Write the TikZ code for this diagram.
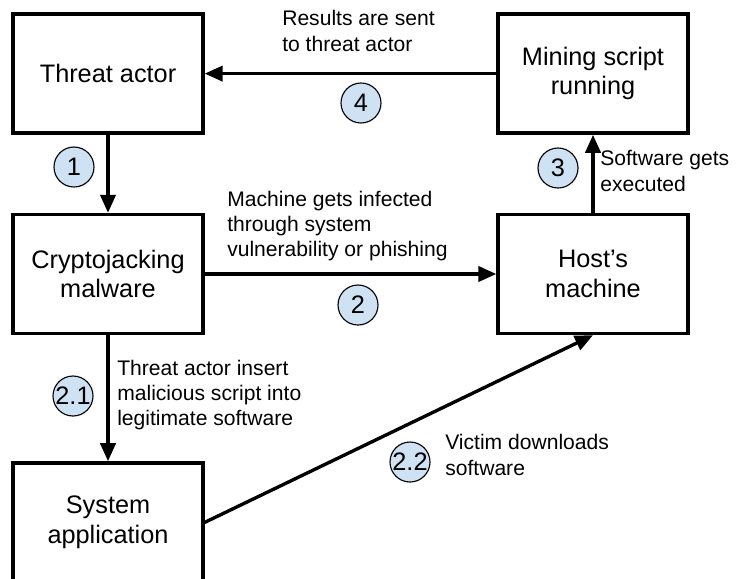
\documentclass[tikz,border=0pt]{standalone}
\usepackage{fontspec}
\setmainfont{Liberation Sans}
\definecolor{NumBlue}{RGB}{207,226,243}
\usepackage{tikz}
\usetikzlibrary{arrows.meta}

\begin{document}
\begin{tikzpicture}[>={Triangle[length=0.45cm,width=0.38cm]}]
		\tikzstyle{box}=[draw, line width=2.4pt, minimum width=4.75cm, minimum height=2.975cm, align=center, font=\fontsize{18}{21}\selectfont];
		\tikzstyle{num}=[draw, circle, fill=NumBlue, line width=0.8pt, minimum size=1cm, inner sep=0pt, font=\fontsize{18}{21}\selectfont];
		\tikzstyle{lbl}=[anchor=west, align=left, inner sep=0pt, font=\fontsize{15}{18}\selectfont];
		\useasboundingbox (0,0) rectangle (18.4,-14.45);
		\clip (0,0) rectangle (18.4,-14.45);
		\node [box] (ta) at (2.7, -1.84) {Threat actor};
		\node [box] (msr) at (14.825, -1.84) {Mining script\\running};
		\node [box] (cj) at (2.7, -6.85) {Cryptojacking\\malware};
		\node [box] (hm) at (14.825, -6.85) {Host’s\\machine};
		\node [box] (sa) at (2.7, -13.06) {System\\application};
		\node [num] (c1) at (1.85, -4.175) {1};
		\node [num] (c4) at (9.025, -2.575) {4};
		\node [num] (c2) at (8.95, -7.625) {2};
		\node [num] (c3) at (13.95, -4.2) {3};
		\node [num] (c21) at (1.825, -9.9) {2.1};
		\node [num] (c22) at (10.25, -11.55) {2.2};
		\node [lbl] (l4) at (7.05, -0.775) {Results are sent\\to threat actor};
		\node [lbl] (l2) at (5.675, -5.65) {Machine gets infected\\through system\\vulnerability or phishing};
		\node [lbl] (l3) at (15.0, -4.275) {Software gets\\executed};
		\node [lbl] (l21) at (2.925, -9.875) {Threat actor insert\\malicious script into\\legitimate software};
		\node [lbl] (l22) at (11.125, -11.375) {Victim downloads\\software};
		\draw[->, line width=2.4pt] (ta) -- (cj);
		\draw[->, line width=2.4pt] (msr) -- (ta);
		\draw[->, line width=2.4pt] (hm) -- (msr);
		\draw[->, line width=2.4pt] (cj) -- (hm);
		\draw[->, line width=2.4pt] (cj) -- (sa);
		\draw[->, line width=2.4pt] (sa.east) -- (hm.south);
\end{tikzpicture}
\end{document}
